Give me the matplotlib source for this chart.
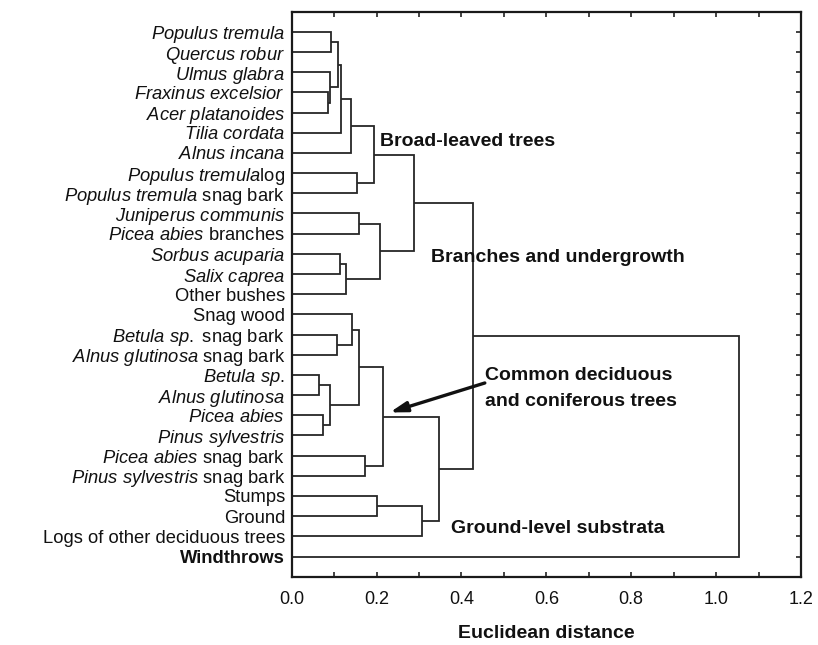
import matplotlib
matplotlib.use('Agg')
import matplotlib.pyplot as plt
from matplotlib.ticker import FixedLocator

plt.rcParams['font.family'] = ['Liberation Sans', 'DejaVu Sans']
plt.rcParams['mathtext.fontset'] = 'custom'
plt.rcParams['mathtext.rm'] = 'Liberation Sans'
plt.rcParams['mathtext.it'] = 'Liberation Sans:italic'
plt.rcParams['mathtext.bf'] = 'Liberation Sans:bold'

# ---- data ----
leaf_labels = [
    r'$\mathit{Populus\ tremula}$',
    r'$\mathit{Quercus\ robur}$',
    r'$\mathit{Ulmus\ glabra}$',
    r'$\mathit{Fraxinus\ excelsior}$',
    r'$\mathit{Acer\ platanoides}$',
    r'$\mathit{Tilia\ cordata}$',
    r'$\mathit{Alnus\ incana}$',
    r'$\mathit{Populus\ tremula}$log',
    r'$\mathit{Populus\ tremula}$ snag bark',
    r'$\mathit{Juniperus\ communis}$',
    r'$\mathit{Picea\ abies}$ branches',
    r'$\mathit{Sorbus\ acuparia}$',
    r'$\mathit{Salix\ caprea}$',
    'Other bushes',
    'Snag wood',
    r'$\mathit{Betula\ sp.}$ snag bark',
    r'$\mathit{Alnus\ glutinosa}$ snag bark',
    r'$\mathit{Betula\ sp.}$',
    r'$\mathit{Alnus\ glutinosa}$',
    r'$\mathit{Picea\ abies}$',
    r'$\mathit{Pinus\ sylvestris}$',
    r'$\mathit{Picea\ abies}$ snag bark',
    r'$\mathit{Pinus\ sylvestris}$ snag bark',
    'Stumps',
    'Ground',
    'Logs of other deciduous trees',
    'Windthrows',
]

# linkage: cluster ids 0..26 are leaves, new clusters numbered from 27
merge_left = [3, 0, 2, 28, 30, 31, 7, 32, 9, 11, 36, 35, 34,
              15, 14, 17, 19, 42, 41, 21, 45, 23, 48, 47, 39, 51]
merge_right = [4, 1, 27, 29, 5, 6, 8, 33, 10, 12, 13, 37, 38,
               16, 40, 18, 20, 43, 44, 22, 46, 24, 25, 49, 50, 26]
merge_height = [0.086, 0.0925, 0.090, 0.110, 0.116, 0.1395, 0.1545, 0.194,
                0.158, 0.114, 0.129, 0.208, 0.288,
                0.107, 0.143, 0.064, 0.0745, 0.090, 0.158, 0.1725, 0.216,
                0.2015, 0.308, 0.347, 0.427, 1.055]

x_ticks = [0.0, 0.2, 0.4, 0.6, 0.8, 1.0, 1.2]
x_tick_labels = ['0.0', '0.2', '0.4', '0.6', '0.8', '1.0', '1.2']
x_minor = [0.1, 0.3, 0.5, 0.7, 0.9, 1.1]

group_labels = ['Broad-leaved trees', 'Branches and undergrowth',
                'Common deciduous', 'and coniferous trees',
                'Ground-level substrata']
group_x = [0.208, 0.329, 0.455, 0.455, 0.376]
group_y = [6.41, 12.2, 18.04, 19.31, 25.63]

# ---- figure ----
W, H = 818, 645
fig = plt.figure(figsize=(W / 100, H / 100), dpi=100)
ax = fig.add_axes([291.7 / W, 1 - 576.7 / H, (801 - 291.7) / W, 565 / H])

line_color = '#262626'
n = len(leaf_labels)
leaf_y = [i + 1 for i in range(n)]
pos = {i: (0.0, leaf_y[i]) for i in range(n)}
for k, (a, b, h) in enumerate(zip(merge_left, merge_right, merge_height)):
    xa, ya = pos[a]
    xb, yb = pos[b]
    ax.plot([xa, h, h, xb], [ya, ya, yb, yb], color=line_color, lw=1.3,
            solid_joinstyle='miter', solid_capstyle='butt')
    pos[n + k] = (h, (ya + yb) / 2)

ax.set_xlim(0, 1.2)
ax.set_ylim(n + 1, 0)

ax.set_yticks(leaf_y)
ax.set_yticklabels(leaf_labels)
ax.get_yticklabels()[-1].set_fontweight('bold')
ax.set_xticks(x_ticks)
ax.set_xticklabels(x_tick_labels)
ax.xaxis.set_minor_locator(FixedLocator(x_minor))

ax.tick_params(axis='y', which='both', left=False, right=True, direction='in',
               length=3.5, width=1.2, labelsize=13.2, pad=4.8, colors='#222222',
               labelcolor='#111111')
ax.tick_params(axis='x', which='both', top=True, bottom=True, direction='in',
               length=3.5, width=1.2, labelsize=13, pad=10.0, colors='#222222',
               labelcolor='#111111')

for s in ax.spines.values():
    s.set_linewidth(1.6)
    s.set_color('#1a1a1a')

ax.set_xlabel('Euclidean distance', fontsize=14, fontweight='bold', color='#111111')
ax.xaxis.set_label_coords(0.5, -0.1014)
ax.xaxis.label.set_va('center')

for t, x, y in zip(group_labels, group_x, group_y):
    ax.text(x, y, t, fontsize=14, fontweight='bold', color='#111111',
            ha='left', va='center')

ax.annotate('', xy=(0.231, 19.86), xytext=(0.455, 18.4),
            arrowprops=dict(arrowstyle='-|>,head_length=1.0,head_width=0.3',
                            color='#111111', lw=2.4, shrinkA=0, shrinkB=0))

fig.savefig('out.png', dpi=100)
